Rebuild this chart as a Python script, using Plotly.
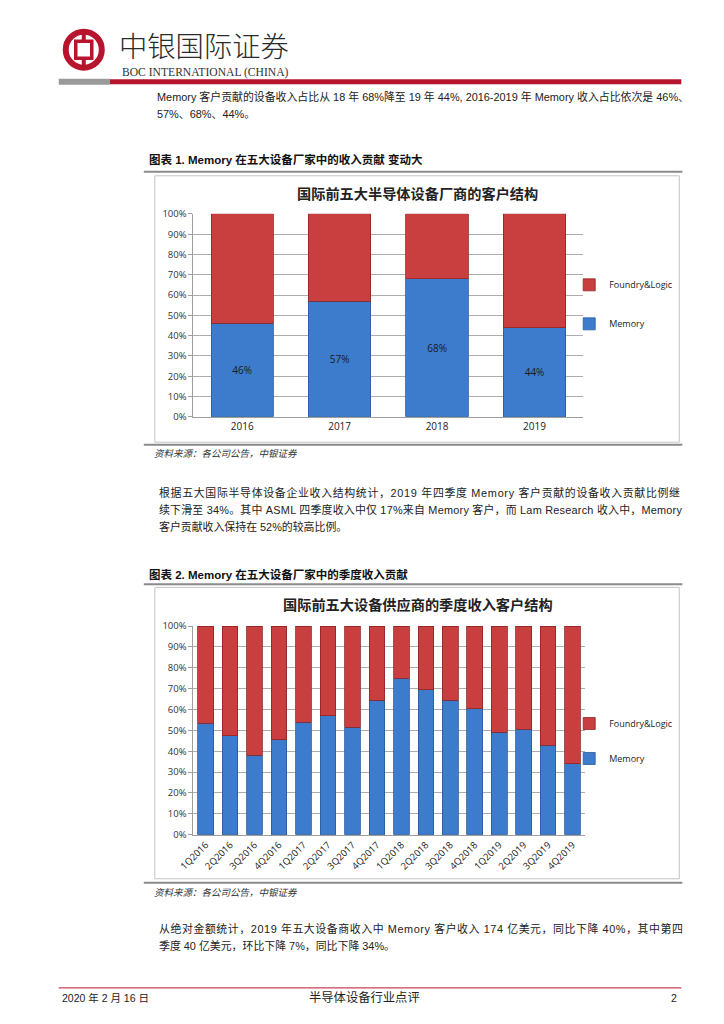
import plotly.graph_objects as go

# ---------------- data ----------------
years = ["2016", "2017", "2018", "2019"]
memory_annual = [46, 57, 68, 44]
foundry_annual = [54, 43, 32, 56]

quarters = ["1Q2016", "2Q2016", "3Q2016", "4Q2016",
            "1Q2017", "2Q2017", "3Q2017", "4Q2017",
            "1Q2018", "2Q2018", "3Q2018", "4Q2018",
            "1Q2019", "2Q2019", "3Q2019", "4Q2019"]
memory_q = [53.5, 47.5, 38, 45.5, 54, 57, 51.5, 64.5, 75, 69.5, 64.5, 60.5, 49, 50.5, 43, 34]
foundry_q = [46.5, 52.5, 62, 54.5, 46, 43, 48.5, 35.5, 25, 30.5, 35.5, 39.5, 51, 49.5, 57, 66]

y_ticks = [0, 10, 20, 30, 40, 50, 60, 70, 80, 90, 100]
y_tick_labels = ["0%", "10%", "20%", "30%", "40%", "50%", "60%", "70%", "80%", "90%", "100%"]

title1 = "国际前五大半导体设备厂商的客户结构"
title2 = "国际前五大设备供应商的季度收入客户结构"
head1 = "图表 1. Memory 在五大设备厂家中的收入贡献 变动大"
head2 = "图表 2. Memory 在五大设备厂家中的季度收入贡献"
source = "资料来源：各公司公告，中银证券"
para1 = ["Memory 客户贡献的设备收入占比从 18 年 68%降至 19 年 44%, 2016-2019 年 Memory 收入占比依次是 46%、",
         "57%、68%、44%。"]
para2 = ["根据五大国际半导体设备企业收入结构统计，2019 年四季度 Memory 客户贡献的设备收入贡献比例继",
         "续下滑至 34%。其中 ASML 四季度收入中仅 17%来自 Memory 客户，而 Lam Research 收入中，Memory",
         "客户贡献收入保持在 52%的较高比例。"]
para3 = ["从绝对金额统计，2019 年五大设备商收入中 Memory 客户收入 174 亿美元，同比下降 40%，其中第四",
         "季度 40 亿美元，环比下降 7%，同比下降 34%。"]
footer_date = "2020 年 2 月 16 日"
footer_title = "半导体设备行业点评"
footer_page = "2"

# ---------------- helpers ----------------
W, H = 724, 1024
# page coordinates -> paper fractions (calibrated against the rendered screenshot)
def X(px):
    return ((px - 16.3) / 0.977) / W
def Y(py):
    return 1 - ((py - 7.4) / 0.986) / H

RED = "#C93E3E"
RED_EDGE = "#8E2626"
BLUE = "#3D7CCC"
BLUE_EDGE = "#2A5A9A"
BOC_RED = "#B7142E"
CJK = "Noto Sans CJK SC"
BODY = "Liberation Sans, Noto Sans CJK SC"
TICKF = "Open Sans, Noto Sans CJK SC"

fig = go.Figure()

fig.add_trace(go.Bar(x=years, y=memory_annual, name="Memory", xaxis="x", yaxis="y",
                     marker=dict(color=BLUE, line=dict(color=BLUE_EDGE, width=0.8)),
                     text=memory_annual, texttemplate="%{text}%", textposition="inside",
                     insidetextanchor="middle",
                     textfont=dict(family=TICKF, size=10, color="#1a1a1a"),
                     legend="legend", legendgroup="m1", legendrank=2))
fig.add_trace(go.Bar(x=years, y=foundry_annual, name="Foundry&Logic", xaxis="x", yaxis="y",
                     marker=dict(color=RED, line=dict(color=RED_EDGE, width=0.8)),
                     legend="legend", legendgroup="f1", legendrank=1))
fig.add_trace(go.Bar(x=quarters, y=memory_q, name="Memory", xaxis="x2", yaxis="y2",
                     marker=dict(color=BLUE, line=dict(color=BLUE_EDGE, width=0.8)),
                     legend="legend2", legendgroup="m2", legendrank=2))
fig.add_trace(go.Bar(x=quarters, y=foundry_q, name="Foundry&Logic", xaxis="x2", yaxis="y2",
                     marker=dict(color=RED, line=dict(color=RED_EDGE, width=0.8)),
                     legend="legend2", legendgroup="f2", legendrank=1))

axis_common_y = dict(range=[0, 100], tickmode="array", tickvals=y_ticks, ticktext=y_tick_labels,
                     showgrid=True, gridcolor="#ADADAD", gridwidth=1, showline=True,
                     linecolor="#9E9E9E", linewidth=1, ticks="outside", ticklen=4,
                     tickcolor="#9E9E9E",
                     tickfont=dict(family=TICKF, size=9.5, color="#333"), zeroline=False,
                     fixedrange=True)
axis_common_x = dict(showline=True, linecolor="#9E9E9E", linewidth=1, showgrid=False,
                     fixedrange=True)

shapes = []
annotations = []

def hline(y, x0, x1, color, width):
    shapes.append(dict(type="line", xref="paper", yref="paper", x0=X(x0), x1=X(x1),
                       y0=Y(y), y1=Y(y), line=dict(color=color, width=width)))

def rect(x0, y0, x1, y1, line_color, line_width, fill="rgba(0,0,0,0)"):
    shapes.append(dict(type="rect", xref="paper", yref="paper", x0=X(x0), x1=X(x1),
                       y0=Y(y1), y1=Y(y0), line=dict(color=line_color, width=line_width),
                       fillcolor=fill, layer="below"))

def text(x, y, s, size, family=BODY, color="#222", anchor="left", bold=False, italic=False,
         weight=None, spacing=None):
    if spacing:
        s = '<span style="letter-spacing:%.2fpx">%s</span>' % (spacing, s)
    annotations.append(dict(x=X(x), y=Y(y), xref="paper", yref="paper", text=s,
                            showarrow=False, xanchor=anchor, yanchor="middle",
                            font=dict(family=family, size=size, color=color,
                                      weight=weight if weight else ("bold" if bold else "normal"),
                                      style="italic" if italic else "normal")))

# ---- header / logo ----
cx, cy, r = 84, 50, 21
shapes.append(dict(type="circle", xref="paper", yref="paper",
                   x0=X(cx - r + 3), x1=X(cx + r - 3), y0=Y(cy + r - 3), y1=Y(cy - r + 3),
                   line=dict(color=BOC_RED, width=6), fillcolor="white"))
shapes.append(dict(type="rect", xref="paper", yref="paper", x0=X(cx - 2), x1=X(cx + 2),
                   y0=Y(cy + 19), y1=Y(cy - 19), line=dict(width=0), fillcolor=BOC_RED))
shapes.append(dict(type="rect", xref="paper", yref="paper", x0=X(cx - 8), x1=X(cx + 8),
                   y0=Y(cy + 8.5), y1=Y(cy - 8.5), line=dict(color=BOC_RED, width=3.5),
                   fillcolor="white"))
text(117, 44.5, "中银国际证券", 28.3, family=CJK, color="#2b2b2b", weight=300)
text(120, 72.5, "BOC INTERNATIONAL (CHINA)", 11.6, family="Liberation Serif", color="#333")
shapes.append(dict(type="rect", xref="paper", yref="paper", x0=X(59), x1=X(110),
                   y0=Y(85), y1=Y(79), line=dict(width=0), fillcolor="#9A9A9A"))
shapes.append(dict(type="rect", xref="paper", yref="paper", x0=X(110), x1=X(681),
                   y0=Y(84.5), y1=Y(79.5), line=dict(width=0), fillcolor=BOC_RED))

# ---- paragraph 1 ----
text(155, 97, para1[0], 10.9)
text(155, 114, para1[1], 10.9)

# ---- chart 1 frame ----
text(147, 160, head1, 11.5, family=BODY, color="#111", bold=True)
hline(172, 144, 682, "#8A8A8A", 2)
rect(155, 176, 679, 442, "#C4C4C4", 1, fill="white")
hline(444.5, 144, 682, "#8A8A8A", 2)
text(152, 453, source, 9.5, family=CJK, color="#333", italic=True)
text(417, 193, title1, 14.2, family=CJK, color="#222", anchor="center", bold=True)

# ---- paragraph 2 ----
text(157, 492.5, para2[0], 10.9, spacing=0.69)
text(157, 509.3, para2[1], 10.9, spacing=0.23)
text(157, 526, para2[2], 10.9)

# ---- chart 2 frame ----
text(147, 574, head2, 11.5, family=BODY, color="#111", bold=True)
hline(584, 144, 682, "#8A8A8A", 2)
rect(155, 587, 679, 878, "#C4C4C4", 1, fill="white")
hline(882, 144, 682, "#8A8A8A", 2)
text(152, 891, source, 9.5, family=CJK, color="#333", italic=True)
text(418, 604, title2, 14.2, family=CJK, color="#222", anchor="center", bold=True)

# ---- paragraph 3 ----
text(157, 928, para3[0], 10.9, spacing=0.58)
text(157, 944.5, para3[1], 10.9)

# ---- footer ----
hline(987, 59, 681, BOC_RED, 1)
text(60, 997, footer_date, 10.5, family=BODY, color="#222")
text(364, 997, footer_title, 12.3, family=BODY, color="#222", anchor="center")
text(679, 997, footer_page, 10.5, family=BODY, color="#222", anchor="right")

legend_common = dict(xref="paper", yref="paper", xanchor="left", yanchor="top",
                     bgcolor="rgba(0,0,0,0)", font=dict(family=TICKF, size=9, color="#222"),
                     traceorder="grouped", itemwidth=30)

fig.update_layout(
    width=W, height=H, autosize=False,
    margin=dict(l=0, r=0, t=0, b=0, pad=0),
    paper_bgcolor="white", plot_bgcolor="white",
    barmode="stack", bargap=0.36,
    showlegend=True,
    xaxis=dict(domain=[X(193.6), X(583)], anchor="y",
               tickfont=dict(family=TICKF, size=10, color="#222"), **axis_common_x),
    yaxis=dict(domain=[Y(416.7), Y(214)], anchor="x", **axis_common_y),
    xaxis2=dict(domain=[X(193.6), X(584.6)], anchor="y2", tickangle=-45,
                tickfont=dict(family=TICKF, size=9.5, color="#222"), **axis_common_x),
    yaxis2=dict(domain=[Y(834), Y(625.7)], anchor="x2", **axis_common_y),
    legend=dict(x=X(569), y=Y(270.4), tracegroupgap=20, **legend_common),
    legend2=dict(x=X(569), y=Y(708.5), tracegroupgap=16, **legend_common),
    shapes=shapes,
    annotations=annotations,
)

fig.write_html("out.html", config={"displayModeBar": False},
               post_script="document.body.style.margin='0px';document.body.style.overflow='hidden';")
